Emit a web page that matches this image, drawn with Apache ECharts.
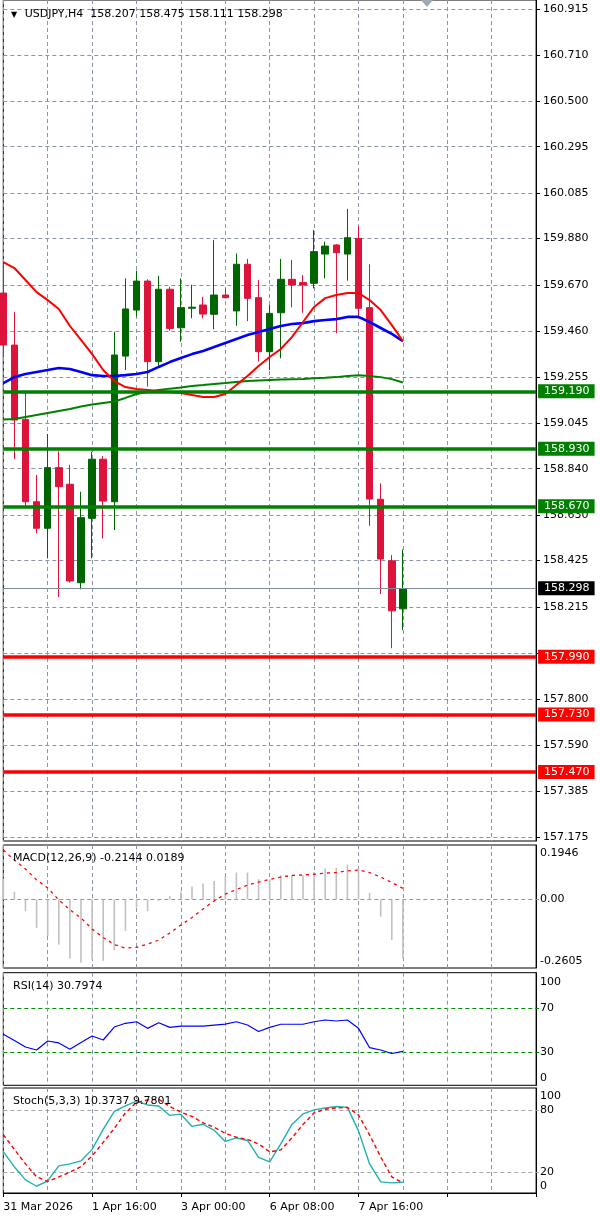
<!DOCTYPE html>
<html><head><meta charset="utf-8">
<script src="https://cdn.jsdelivr.net/npm/echarts@6/dist/echarts.min.js"></script>
<style>html,body{margin:0;padding:0;background:#fff}#c{width:600px;height:1219px}</style>
</head><body><div id="c"></div>
<script>
// ---- categories (H4 bars + empty future slots of the chart shift) ----
const categories = [
 '2026.03.31 08:00','2026.03.31 12:00','2026.03.31 16:00','2026.03.31 20:00',
 '2026.04.01 00:00','2026.04.01 04:00','2026.04.01 08:00','2026.04.01 12:00',
 '2026.04.01 16:00','2026.04.01 20:00','2026.04.02 00:00','2026.04.02 04:00',
 '2026.04.02 08:00','2026.04.02 12:00','2026.04.02 16:00','2026.04.02 20:00',
 '2026.04.03 00:00','2026.04.03 04:00','2026.04.03 08:00','2026.04.03 12:00',
 '2026.04.03 16:00','2026.04.03 20:00','2026.04.06 00:00','2026.04.06 04:00',
 '2026.04.06 08:00','2026.04.06 12:00','2026.04.06 16:00','2026.04.06 20:00',
 '2026.04.07 00:00','2026.04.07 04:00','2026.04.07 08:00','2026.04.07 12:00',
 '2026.04.07 16:00','2026.04.07 20:00','2026.04.08 00:00','2026.04.08 04:00',
 '2026.04.08 08:00','2026.04.08 12:00','2026.04.08 16:00','2026.04.08 20:00',
 '2026.04.09 00:00','2026.04.09 04:00','2026.04.09 08:00','2026.04.09 12:00',
 '2026.04.09 16:00','2026.04.09 20:00','2026.04.10 00:00','2026.04.10 04:00',
 '2026.04.10 08:00'
];
const timeLabels = ['31 Mar 2026','1 Apr 16:00','3 Apr 00:00','6 Apr 08:00','7 Apr 16:00'];

// ---- OHLC ----
const openP  = [159.634,159.399,159.063,158.691,158.571,158.845,158.770,158.325,158.616,158.883,158.691,159.349,159.557,159.688,159.324,159.651,159.477,159.565,159.580,159.538,159.625,159.553,159.764,159.613,159.369,159.545,159.696,159.681,159.678,159.810,159.851,159.810,159.881,159.568,158.702,158.424,158.207];
const closeP = [159.399,159.060,158.691,158.571,158.845,158.759,158.333,158.619,158.883,158.694,159.354,159.562,159.688,159.324,159.651,159.474,159.568,159.570,159.539,159.625,159.613,159.764,159.610,159.369,159.542,159.696,159.670,159.670,159.821,159.846,159.816,159.884,159.565,158.703,158.432,158.198,158.298];
const lowP   = [159.345,158.884,158.666,158.548,158.435,158.260,158.325,158.295,158.435,158.525,158.563,159.286,159.527,159.211,159.301,159.464,159.414,159.520,159.520,159.470,159.610,159.486,159.507,159.324,159.286,159.339,159.569,159.545,159.655,159.700,159.452,159.690,159.520,158.582,158.274,158.029,158.111];
const highP  = [159.765,159.549,159.188,158.812,158.997,158.919,158.858,158.736,158.917,158.897,159.459,159.700,159.735,159.696,159.712,159.662,159.700,159.671,159.617,159.873,159.655,159.813,159.788,159.693,159.580,159.788,159.783,159.715,159.919,159.866,159.855,160.014,159.937,159.764,158.774,158.450,158.475];

// ---- moving averages ----
const maRed   = [159.774,159.747,159.693,159.638,159.602,159.562,159.485,159.422,159.358,159.286,159.236,159.209,159.200,159.196,159.191,159.187,159.182,159.173,159.164,159.164,159.178,159.218,159.259,159.304,159.345,159.381,159.435,159.503,159.571,159.611,159.625,159.634,159.634,159.602,159.557,159.489,159.417];
const maBlue  = [159.227,159.254,159.268,159.277,159.286,159.295,159.291,159.277,159.263,159.259,159.259,159.263,159.268,159.277,159.300,159.322,159.340,159.358,159.372,159.390,159.408,159.426,159.444,159.458,159.471,159.485,159.494,159.498,159.507,159.512,159.516,159.526,159.526,159.503,159.476,159.449,159.417];
const maGreen = [159.062,159.065,159.074,159.083,159.092,159.101,159.110,159.121,159.130,159.137,159.144,159.160,159.178,159.187,159.196,159.202,159.207,159.214,159.218,159.223,159.227,159.232,159.236,159.239,159.241,159.243,159.244,159.245,159.249,159.251,159.254,159.259,159.263,159.259,159.254,159.245,159.230];

// ---- horizontal levels ----
const resistanceLevels = [159.190, 158.930, 158.670];
const supportLevels = [157.990, 157.730, 157.470];
const lastPrice = 158.298;

// ---- price axis ticks ----
const priceTicks = [160.915,160.710,160.500,160.295,160.085,159.880,159.670,159.460,159.255,159.045,158.840,158.630,158.425,158.215,158.005,157.800,157.590,157.385,157.175];
const priceTickLabels = ['160.915','160.710','160.500','160.295','160.085','159.880','159.670','159.460','159.255','159.045','158.840','158.630','158.425','158.215','','157.800','157.590','157.385','157.175'];

// ---- indicators ----
const macdHist = [0.089,0.033,-0.050,-0.120,-0.155,-0.191,-0.250,-0.268,-0.254,-0.260,-0.215,-0.133,-0.034,-0.050,-0.005,0.014,0.033,0.056,0.068,0.078,0.096,0.114,0.114,0.086,0.085,0.103,0.103,0.103,0.117,0.131,0.134,0.148,0.131,0.028,-0.073,-0.172,-0.250];
const macdSignal = [0.210,0.167,0.129,0.083,0.049,-0.002,-0.044,-0.078,-0.125,-0.161,-0.191,-0.206,-0.203,-0.189,-0.172,-0.142,-0.108,-0.076,-0.040,-0.006,0.023,0.042,0.061,0.074,0.085,0.095,0.102,0.104,0.107,0.112,0.114,0.121,0.125,0.114,0.095,0.072,0.047];
const macdTicks = [0.1946, 0, -0.2605];
const rsiValues = [46.4,40.7,34.8,32.1,40.3,38.5,32.7,38.9,44.8,41.2,53.0,56.4,57.8,51.8,56.9,52.7,53.9,53.9,53.9,54.8,55.7,57.8,54.8,48.9,52.7,55.5,55.5,55.5,57.8,59.4,58.5,59.4,51.8,34.2,32.1,28.9,30.8];
const rsiLevels = [70, 30];
const stochMain = [39.8,25.1,12.6,6.5,11.6,26.1,28.0,30.9,42.0,61.2,78.5,83.8,88.4,84.8,83.8,74.7,75.9,64.1,66.2,60.4,49.7,53.0,50.6,34.3,30.0,47.3,66.0,76.1,80.0,81.9,83.3,82.4,59.8,28.0,10.7,9.7,10.4];
const stochSignal = [56.2,42.0,28.0,15.5,11.2,15.5,20.0,25.4,35.7,48.7,62.2,77.1,87.2,89.6,90.3,83.3,77.8,73.7,67.5,63.3,57.4,53.7,51.6,47.3,39.6,41.5,53.0,66.0,77.1,80.7,81.9,82.4,75.2,55.9,34.7,15.5,9.8];
const stochLevels = [80, 20];

// ---- build ----
const FONT = 'DejaVu Sans';
const GRID_DASH = [4, 3];
const GRID_COLOR = '#8a96a3';
const candleData = openP.map((o, i) => [o, closeP[i], lowP[i], highP[i]]);

function levelLine(v, color, width) {
  return {
    yAxis: v,
    lineStyle: {color: color, width: width, type: 'solid'},
    label: {show: true, position: 'end', distance: 2, formatter: () => v.toFixed(3),
      color: '#fff', backgroundColor: color, padding: [2, 5, 1, 6],
      fontFamily: FONT, fontSize: 11}
  };
}

const baseGrid = {left: 3.3, right: 63.9, show: true, borderColor: '#000', borderWidth: 1, backgroundColor: '#fff'};
const grids = [
  Object.assign({}, baseGrid, {top: 0, height: 841}),
  Object.assign({}, baseGrid, {top: 845, height: 123}),
  Object.assign({}, baseGrid, {top: 972.7, height: 112.6}),
  Object.assign({}, baseGrid, {top: 1088, height: 105})
];

function xAx(idx, bottom) {
  return {
    type: 'category', gridIndex: idx, data: categories, boundaryGap: false,
    axisLine: {show: bottom, lineStyle: {color: '#000'}},
    axisTick: {show: bottom, interval: 7, length: 4, lineStyle: {color: '#000'}},
    axisLabel: {show: bottom, interval: 0, align: 'left', margin: 9, color: '#000',
      fontFamily: FONT, fontSize: 11,
      formatter: (v, i) => (i % 8 === 0 && timeLabels[i / 8]) ? timeLabels[i / 8] : ''},
    splitLine: {show: true, interval: 3, lineStyle: {color: GRID_COLOR, type: GRID_DASH, width: 1}}
  };
}

const axisLabelBase = {color: '#000', fontFamily: FONT, fontSize: 11};
const richEnds = {
  top: {padding: [14, 0, 0, 0], color: '#000', fontFamily: FONT, fontSize: 11},
  bot: {padding: [0, 0, 14, 0], color: '#000', fontFamily: FONT, fontSize: 11}
};

const option = {
  animation: false,
  backgroundColor: '#fff',
  title: [
    {text: '{tri|▼} USDJPY,H4  158.207 158.475 158.111 158.298', left: 6, top: 4,
      textStyle: {color: '#000', fontFamily: FONT, fontSize: 11, fontWeight: 'normal',
        rich: {tri: {fontSize: 8, color: '#000', fontFamily: FONT, padding: [0, 4, 0, 0]}}}},
    {text: 'MACD(12,26,9) -0.2144 0.0189', left: 8, top: 848,
      textStyle: {color: '#000', fontFamily: FONT, fontSize: 11, fontWeight: 'normal'}},
    {text: 'RSI(14) 30.7974', left: 8, top: 976,
      textStyle: {color: '#000', fontFamily: FONT, fontSize: 11, fontWeight: 'normal'}},
    {text: 'Stoch(5,3,3) 10.3737 9.7801', left: 8, top: 1091,
      textStyle: {color: '#000', fontFamily: FONT, fontSize: 11, fontWeight: 'normal'}}
  ],
  grid: grids,
  xAxis: [xAx(0, false), xAx(1, false), xAx(2, false), xAx(3, true)],
  yAxis: [
    {type: 'value', gridIndex: 0, position: 'right', min: 157.158, max: 160.958, scale: true,
      axisLine: {show: true, lineStyle: {color: '#000'}},
      axisTick: {show: true, customValues: priceTicks, length: 4, lineStyle: {color: '#000'}},
      axisLabel: Object.assign({customValues: priceTicks, margin: 7,
        formatter: v => { const k = priceTicks.findIndex(t => Math.abs(t - v) < 1e-6); return k >= 0 ? priceTickLabels[k] : ''; }}, axisLabelBase),
      splitLine: {show: true, lineStyle: {color: GRID_COLOR, type: GRID_DASH, width: 1}}},
    {type: 'value', gridIndex: 1, position: 'right', min: -0.2903, max: 0.2309,
      axisLine: {show: true, lineStyle: {color: '#000'}},
      axisTick: {show: true, customValues: [0], length: 3, lineStyle: {color: '#888'}},
      axisLabel: Object.assign({customValues: macdTicks, margin: 4,
        formatter: v => v === 0 ? '0.00' : v.toFixed(4)}, axisLabelBase),
      splitLine: {show: true, lineStyle: {color: GRID_COLOR, type: GRID_DASH, width: 1}}},
    {type: 'value', gridIndex: 2, position: 'right', min: 0, max: 102.4,
      axisLine: {show: true, lineStyle: {color: '#000'}},
      axisTick: {show: true, customValues: rsiLevels, length: 3, lineStyle: {color: '#009000'}},
      axisLabel: Object.assign({customValues: [100, 70, 30, 0], margin: 4,
        formatter: v => v === 100 ? '{top|100}' : (v === 0 ? '{bot|0}' : String(v)), rich: richEnds}, axisLabelBase),
      splitLine: {show: true, lineStyle: {color: '#009000', type: GRID_DASH, width: 1}}},
    {type: 'value', gridIndex: 3, position: 'right', min: 0, max: 101.1,
      axisLine: {show: true, lineStyle: {color: '#000'}},
      axisTick: {show: true, customValues: stochLevels, length: 3, lineStyle: {color: '#aaa'}},
      axisLabel: Object.assign({customValues: [100, 80, 20, 0], margin: 4,
        formatter: v => v === 100 ? '{top|100}' : (v === 0 ? '{bot|0}' : String(v)), rich: richEnds}, axisLabelBase),
      splitLine: {show: true, lineStyle: {color: '#a8a8a8', type: GRID_DASH, width: 1}}}
  ],
  series: [
    {type: 'candlestick', xAxisIndex: 0, yAxisIndex: 0, data: candleData, barWidth: 7,
      itemStyle: {color: '#006400', color0: '#dc143c', borderColor: '#006400', borderColor0: '#dc143c', borderWidth: 1},
      markLine: {symbol: 'none', silent: true, animation: false, z: 6,
        data: [
          {yAxis: lastPrice, lineStyle: {color: '#7f8c99', width: 1, type: 'solid'},
            label: {show: true, position: 'end', distance: 2, formatter: () => lastPrice.toFixed(3),
              color: '#fff', backgroundColor: '#000', padding: [2, 5, 1, 6], fontFamily: FONT, fontSize: 11}}
        ].concat(resistanceLevels.map(v => levelLine(v, '#008000', 3.5)))
         .concat(supportLevels.map(v => levelLine(v, '#ff0000', 3.5)))}},
    {type: 'line', xAxisIndex: 0, yAxisIndex: 0, data: maGreen, showSymbol: false, lineStyle: {color: '#008000', width: 2}, z: 3},
    {type: 'line', xAxisIndex: 0, yAxisIndex: 0, data: maBlue, showSymbol: false, lineStyle: {color: '#0000ff', width: 2.6}, z: 3},
    {type: 'line', xAxisIndex: 0, yAxisIndex: 0, data: maRed, showSymbol: false, lineStyle: {color: '#ff0000', width: 2}, z: 3},
    {type: 'bar', xAxisIndex: 1, yAxisIndex: 1, data: macdHist, barWidth: 1.6, itemStyle: {color: '#c0c0c0'}},
    {type: 'line', xAxisIndex: 1, yAxisIndex: 1, data: macdSignal, showSymbol: false, lineStyle: {color: '#ff0000', width: 1.3, type: [3, 4]}},
    {type: 'line', xAxisIndex: 2, yAxisIndex: 2, data: rsiValues, showSymbol: false, lineStyle: {color: '#0000ff', width: 1.2}},
    {type: 'line', xAxisIndex: 3, yAxisIndex: 3, data: stochMain, showSymbol: false, lineStyle: {color: '#20b2aa', width: 1.4}},
    {type: 'line', xAxisIndex: 3, yAxisIndex: 3, data: stochSignal, showSymbol: false, lineStyle: {color: '#ff0000', width: 1.4, type: [4, 3]}}
  ],
  graphic: [
    {type: 'polygon', shape: {points: [[421, 0], [433, 0], [427, 7]]}, style: {fill: '#a0a8b0'}, z: 100}
  ]
};

const chart = echarts.init(document.getElementById('c'), null, {renderer: 'canvas'});
chart.setOption(option);
</script>
</body></html>
